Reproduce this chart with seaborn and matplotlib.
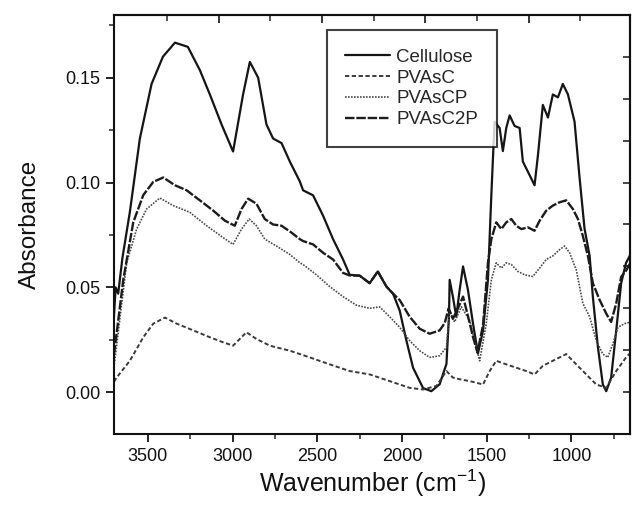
import matplotlib
matplotlib.use("Agg")
import matplotlib.pyplot as plt
from matplotlib.ticker import MultipleLocator, NullFormatter, FixedLocator
import seaborn as sns
import pandas as pd

# ---------------- data ----------------
cellulose_wn = [3700, 3690, 3675, 3650, 3606, 3547, 3478, 3411, 3340, 3264, 3193, 3134, 3065, 2997,
                2938, 2898, 2849, 2800, 2761, 2711, 2662, 2603, 2584, 2525, 2466, 2407, 2348, 2309,
                2250, 2191, 2143, 2092, 2053, 2014, 1974, 1935, 1876, 1827, 1778, 1738, 1723, 1719,
                1700, 1680, 1660, 1640, 1611, 1581, 1552, 1522, 1493, 1473, 1454, 1424, 1405, 1385,
                1365, 1336, 1306, 1287, 1247, 1218, 1198, 1169, 1139, 1110, 1080, 1051, 1021, 982,
                952, 923, 893, 874, 844, 815, 795, 766, 736, 707, 678, 650]
cellulose_abs = [0.036, 0.050, 0.047, 0.064, 0.086, 0.121, 0.147, 0.160, 0.1667, 0.1647, 0.1536, 0.142,
                 0.1277, 0.1148, 0.142, 0.1575, 0.150, 0.1277, 0.121, 0.1188, 0.110, 0.1005, 0.0963,
                 0.0939, 0.0842, 0.073, 0.0633, 0.056, 0.0556, 0.052, 0.0576, 0.0504, 0.047, 0.039,
                 0.0246, 0.0117, 0.002, 0.0005, 0.0038, 0.0135, 0.036, 0.0536, 0.0456, 0.036, 0.0488,
                 0.060, 0.0488, 0.0327, 0.0185, 0.0295, 0.0536, 0.094, 0.129, 0.126, 0.115, 0.126,
                 0.132, 0.127, 0.126, 0.110, 0.1035, 0.0987, 0.113, 0.137, 0.131, 0.142, 0.1406,
                 0.147, 0.142, 0.129, 0.102, 0.078, 0.065, 0.0456, 0.0214, 0.0037, 0.0005, 0.007,
                 0.0295, 0.052, 0.0617, 0.066]

pvasc2p_wn = [3700, 3682, 3645, 3586, 3527, 3468, 3409, 3340, 3271, 3193, 3114, 3045, 2987, 2947,
              2908, 2859, 2810, 2761, 2711, 2652, 2603, 2584, 2525, 2466, 2407, 2348, 2309, 2250,
              2191, 2143, 2092, 2053, 2014, 1955, 1896, 1837, 1778, 1748, 1725, 1700, 1670, 1640,
              1610, 1580, 1555, 1522, 1493, 1473, 1444, 1414, 1385, 1355, 1326, 1296, 1257, 1218,
              1188, 1149, 1110, 1070, 1031, 992, 962, 933, 903, 874, 834, 795, 766, 736, 707, 678, 650]
pvasc2p_abs = [0.018, 0.0295, 0.0536, 0.081, 0.094, 0.1003, 0.1024, 0.0987, 0.0963, 0.0915, 0.0866,
               0.0818, 0.0794, 0.0874, 0.0923, 0.0899, 0.0826, 0.080, 0.0794, 0.0761, 0.073, 0.0721,
               0.0705, 0.0665, 0.0633, 0.0569, 0.0557, 0.0556, 0.052, 0.0576, 0.0504, 0.047, 0.044,
               0.036, 0.0303, 0.0279, 0.0295, 0.033, 0.040, 0.035, 0.040, 0.0456, 0.036, 0.026,
               0.019, 0.032, 0.0617, 0.073, 0.081, 0.0778, 0.081, 0.0826, 0.0794, 0.0778, 0.0786,
               0.077, 0.0818, 0.0866, 0.089, 0.0906, 0.0915, 0.0874, 0.0826, 0.0745, 0.065, 0.052,
               0.044, 0.0375, 0.0335, 0.0424, 0.055, 0.058, 0.062]

pvascp_wn = [3700, 3680, 3625, 3566, 3507, 3429, 3350, 3252, 3153, 3055, 2997, 2947, 2902, 2859,
             2810, 2741, 2662, 2603, 2584, 2505, 2427, 2348, 2269, 2191, 2132, 2073, 2014, 1955,
             1896, 1837, 1778, 1738, 1719, 1690, 1650, 1601, 1562, 1542, 1503, 1473, 1444, 1414,
             1385, 1355, 1316, 1277, 1228, 1188, 1149, 1110, 1070, 1041, 1011, 972, 933, 893, 854,
             815, 786, 756, 726, 687, 650]
pvascp_abs = [0.012, 0.025, 0.0617, 0.0778, 0.0874, 0.0926, 0.089, 0.0858, 0.0794, 0.0737, 0.0705,
              0.0778, 0.0826, 0.0794, 0.073, 0.0697, 0.0657, 0.0617, 0.0609, 0.056, 0.0504, 0.0456,
              0.0415, 0.040, 0.0407, 0.036, 0.031, 0.0246, 0.0198, 0.0166, 0.0174, 0.0214, 0.039,
              0.0335, 0.0407, 0.0343, 0.0214, 0.015, 0.0327, 0.0536, 0.0617, 0.0592, 0.0617, 0.0609,
              0.0576, 0.056, 0.0552, 0.0592, 0.0633, 0.065, 0.068, 0.0697, 0.0665, 0.0584, 0.0424,
              0.036, 0.0246, 0.0182, 0.0166, 0.023, 0.031, 0.0327, 0.0335]

pvasc_wn = [3700, 3684, 3606, 3527, 3468, 3399, 3330, 3232, 3134, 3055, 2997, 2918, 2859, 2780,
            2702, 2662, 2603, 2544, 2427, 2309, 2191, 2073, 1955, 1876, 1797, 1738, 1700, 1660,
            1601, 1560, 1522, 1483, 1444, 1385, 1326, 1267, 1218, 1169, 1110, 1031, 972, 913, 854,
            795, 736, 678, 650]
pvasc_abs = [0.005, 0.007, 0.015, 0.0262, 0.0327, 0.0356, 0.0327, 0.0295, 0.0262, 0.0238, 0.0222,
             0.0286, 0.0254, 0.0222, 0.0206, 0.0198, 0.0182, 0.0166, 0.0133, 0.0101, 0.0085, 0.0053,
             0.0021, 0.0013, 0.003, 0.0101, 0.007, 0.0062, 0.0053, 0.0045, 0.0037, 0.0101, 0.015,
             0.0133, 0.0117, 0.0101, 0.0085, 0.0126, 0.015, 0.0182, 0.0133, 0.0085, 0.0037, 0.0021,
             0.0101, 0.0166, 0.019]

series_names = ["Cellulose", "PVAsC", "PVAsCP", "PVAsC2P"]
x_ticks = [3500, 3000, 2500, 2000, 1500, 1000]
y_ticks = [0.00, 0.05, 0.10, 0.15]
top_major_ticks = [3082, 2472, 1862, 1252]
top_minor_ticks = [3387, 2777, 2167, 1557, 947]
right_ticks = [0.00, 0.02, 0.04, 0.06, 0.08, 0.10, 0.12, 0.14, 0.16]

# ---------------- style ----------------
sns.set_theme(style="ticks")
plt.rcParams["font.family"] = ["Liberation Sans", "DejaVu Sans"]
plt.rcParams["mathtext.default"] = "regular"

fig = plt.figure(figsize=(6.33, 5.09), dpi=100)
fig.subplots_adjust(left=0.180, right=0.996, bottom=0.147, top=0.971)
ax = fig.add_subplot(111)

data = {
    "Cellulose": (cellulose_wn, cellulose_abs),
    "PVAsC": (pvasc_wn, pvasc_abs),
    "PVAsCP": (pvascp_wn, pvascp_abs),
    "PVAsC2P": (pvasc2p_wn, pvasc2p_abs),
}
styles = {
    "Cellulose": dict(color="#151515", lw=1.6, linestyle="-"),
    "PVAsC": dict(color="#3a3a3a", lw=1.4, linestyle=(0, (2.2, 1.3))),
    "PVAsCP": dict(color="#4a4a4a", lw=1.2, linestyle=(0, (1.0, 0.8))),
    "PVAsC2P": dict(color="#1c1c1c", lw=1.7, linestyle=(0, (4.0, 0.8))),
}

for name in series_names:
    wn, ab = data[name]
    df = pd.DataFrame({"Wavenumber": wn, "Absorbance": ab})
    sns.lineplot(data=df, x="Wavenumber", y="Absorbance", ax=ax, sort=False,
                 estimator=None, label=name, **styles[name])

ax.set_xlim(3700, 652)
ax.set_ylim(-0.02, 0.18)
ax.set_xticks(x_ticks)
ax.set_yticks(y_ticks)
ax.set_yticklabels([f"{v:.2f}" for v in y_ticks])
ax.xaxis.set_minor_locator(MultipleLocator(250))
ax.yaxis.set_minor_locator(MultipleLocator(0.025))
ax.tick_params(axis="both", which="major", direction="out", length=6, width=1.3,
               labelsize=13, colors="#111111", pad=4)
ax.tick_params(axis="both", which="minor", direction="out", length=3.5, width=1.1)

for sp in ax.spines.values():
    sp.set_linewidth(1.5)
    sp.set_color("#111111")
    sp.set_visible(True)

top = ax.secondary_xaxis("top")
top.xaxis.set_major_locator(FixedLocator(top_major_ticks))
top.xaxis.set_minor_locator(FixedLocator(top_minor_ticks))
top.xaxis.set_major_formatter(NullFormatter())
top.tick_params(which="major", direction="in", length=6, width=1.3)
top.tick_params(which="minor", direction="in", length=4, width=1.1)
top.spines["top"].set_linewidth(1.5)

right = ax.secondary_yaxis("right")
right.yaxis.set_major_locator(FixedLocator(right_ticks))
right.yaxis.set_major_formatter(NullFormatter())
right.tick_params(which="major", direction="in", length=5, width=1.2)
right.spines["right"].set_linewidth(1.5)

ax.set_xlabel("Wavenumber (cm$^{-1}$)", fontsize=18, labelpad=2, color="#111111")
ax.set_ylabel("Absorbance", fontsize=17.5, labelpad=17, color="#111111")

leg = ax.legend(loc="upper left", bbox_to_anchor=(0.412, 0.964), fontsize=13.5,
                frameon=True, fancybox=False, edgecolor="#111111", borderpad=1.0,
                labelspacing=0.2, handlelength=2.4, handletextpad=0.3, borderaxespad=0)
leg.get_frame().set_linewidth(1.5)

fig.savefig("out.png", dpi=100)
